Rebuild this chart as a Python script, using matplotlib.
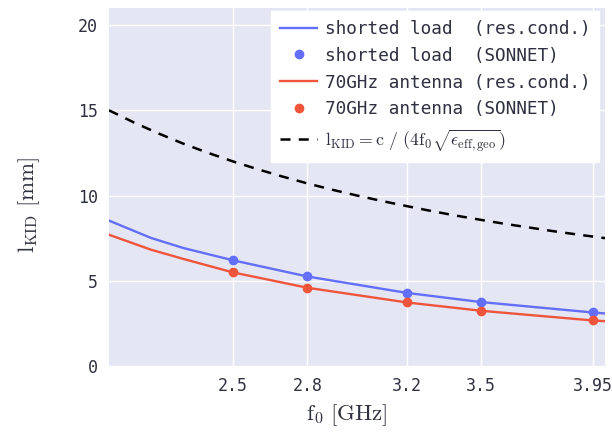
import matplotlib
matplotlib.use("Agg")
import matplotlib.pyplot as plt

plt.rcParams["mathtext.fontset"] = "cm"
plt.rcParams["font.family"] = ["DejaVu Sans Mono", "DejaVu Sans"]

# resonator length vs. resonance frequency
f_line = [2.0, 2.17, 2.3, 2.5, 2.8, 3.2, 3.5, 3.95, 4.0]
shorted_line = [8.53, 7.51, 6.92, 6.2, 5.25, 4.29, 3.75, 3.14, 3.08]
antenna_line = [7.7, 6.82, 6.28, 5.49, 4.59, 3.73, 3.24, 2.67, 2.63]

f_sonnet = [2.5, 2.8, 3.2, 3.5, 3.95]
shorted_sonnet = [6.19, 5.25, 4.29, 3.75, 3.14]
antenna_sonnet = [5.49, 4.59, 3.73, 3.24, 2.67]

f_geo = [2.0, 2.1, 2.2, 2.3, 2.4, 2.5, 2.6, 2.7, 2.8, 2.9, 3.0, 3.1, 3.2, 3.3,
         3.4, 3.5, 3.6, 3.7, 3.8, 3.9, 4.0]
l_geo = [15.0, 14.29, 13.64, 13.04, 12.5, 12.0, 11.54, 11.11, 10.71, 10.34, 10.0,
         9.68, 9.38, 9.09, 8.82, 8.57, 8.33, 8.11, 7.89, 7.69, 7.5]

x_ticks = [2.5, 2.8, 3.2, 3.5, 3.95]
x_ticklabels = ["2.5", "2.8", "3.2", "3.5", "3.95"]
y_ticks = [0, 5, 10, 15, 20]

azul = "#636EFA"
vermelho = "#EF553B"
texto = "#2f3040"

fig = plt.figure(figsize=(6.12, 4.37), dpi=100)
ax = fig.add_axes([0.178, 0.1625, 0.8106, 0.8192])
ax.set_facecolor("#E5E6F3")

ax.plot(f_line, shorted_line, color=azul, lw=1.7, label="shorted load  (res.cond.)")
ax.plot(f_sonnet, shorted_sonnet, "o", color=azul, ms=6, label="shorted load  (SONNET)")
ax.plot(f_line, antenna_line, color=vermelho, lw=1.7, label="70GHz antenna (res.cond.)")
ax.plot(f_sonnet, antenna_sonnet, "o", color=vermelho, ms=6, label="70GHz antenna (SONNET)")
ln, = ax.plot(f_geo, l_geo, color="black", lw=1.8,
              label=r"$\mathrm{l_{KID}} = \mathrm{c}\ /\ (4\mathrm{f_0}\sqrt{\epsilon_{\mathrm{eff,geo}}})$")
ln.set_dashes([4, 3.3])

ax.set_xlim(2.0, 4.0)
ax.set_ylim(0, 21)
ax.set_xticks(x_ticks)
ax.set_xticklabels(x_ticklabels)
ax.set_yticks(y_ticks)
ax.grid(color="white", lw=1.0)
ax.set_axisbelow(True)
for s in ax.spines.values():
    s.set_visible(False)
ax.tick_params(length=0, labelsize=12, colors=texto, pad=8)

ax.set_xlabel(r"$\mathrm{f_0\ [GHz]}$", fontsize=16.5, color=texto)
ax.xaxis.set_label_coords(0.48, -0.1)
ax.set_ylabel(r"$\mathrm{l_{KID}\ [mm]}$", fontsize=16.5, color=texto)
ax.yaxis.set_label_coords(-0.135, 0.45)

leg = ax.legend(loc="upper right", bbox_to_anchor=(0.988, 0.992), borderaxespad=0,
                fontsize=12.8, frameon=True, fancybox=False, framealpha=1,
                facecolor="white", edgecolor="white", handlelength=2.1,
                labelspacing=0.5, borderpad=0.5, handletextpad=0.4)
for t in leg.get_texts():
    t.set_color(texto)

fig.savefig("out.png", dpi=100)
